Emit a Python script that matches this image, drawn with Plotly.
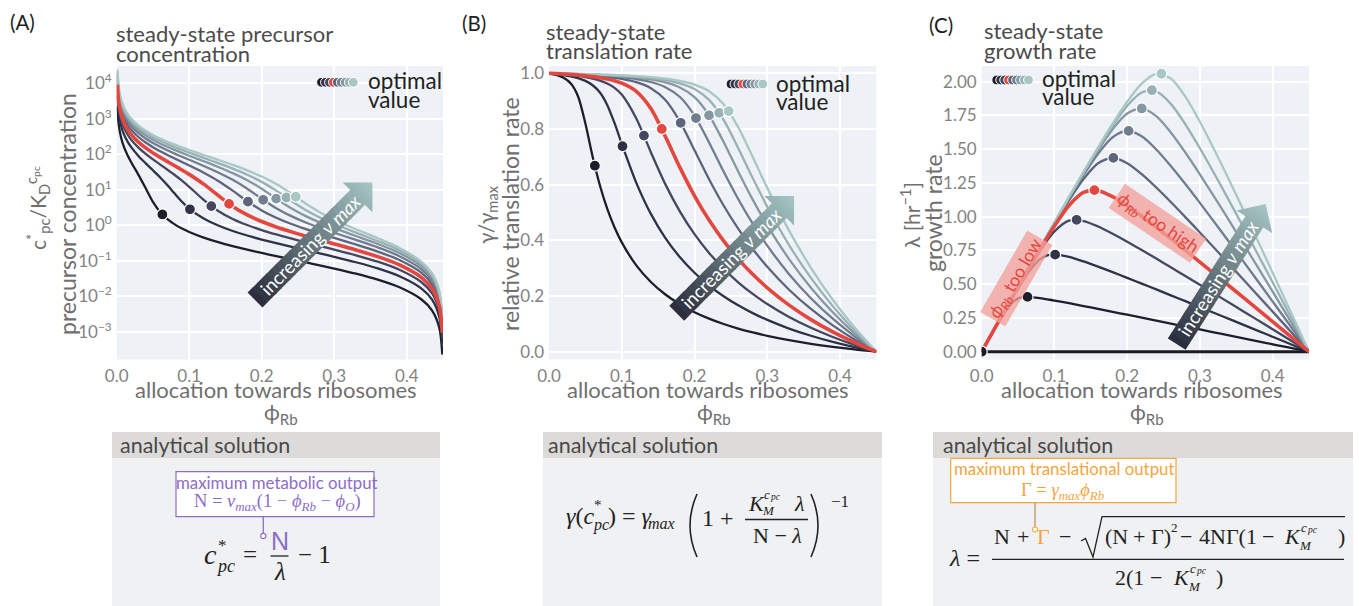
import math
import plotly.graph_objects as go

W, H = 1359, 606
FONT = "Lato"
SERIF = "Liberation Serif"

# ---------------- data ----------------
PHI = [0.0, 0.01, 0.02, 0.03, 0.04, 0.05, 0.06, 0.07, 0.08, 0.09, 0.10, 0.12, 0.14, 0.16,
       0.18, 0.20, 0.22, 0.24, 0.26, 0.28, 0.30, 0.33, 0.36, 0.39, 0.42, 0.45]
PHI_A = [0.0009, 0.003, 0.006, 0.01, 0.015, 0.02, 0.03, 0.04, 0.05, 0.06, 0.07, 0.08, 0.09,
         0.10, 0.12, 0.14, 0.16, 0.18, 0.20, 0.22, 0.24, 0.26, 0.28, 0.30, 0.33, 0.36, 0.39,
         0.42, 0.435, 0.445, 0.4491]

# (A) steady-state precursor concentration c*/K  (one list per nu_max, dark -> light)
PRECURSOR_1 = [2236, 640.5, 298.4, 161.9, 93.65, 59.68, 26.27, 11.0, 4.532, 2.335, 1.48, 1.056, 0.8082, 0.6465, 0.4493, 0.3339, 0.2583, 0.205, 0.1654, 0.1348, 0.1105, 0.0907, 0.07423, 0.06036, 0.04319, 0.02931, 0.01784, 0.008207, 0.003947, 0.001283, 0.0002285]
PRECURSOR_2 = [4532, 1326, 638.8, 364.2, 226.8, 158.2, 89.68, 55.59, 35.36, 22.22, 13.43, 7.798, 4.602, 2.945, 1.541, 0.98, 0.6893, 0.5132, 0.3956, 0.3116, 0.2487, 0.1998, 0.1607, 0.1288, 0.09064, 0.06064, 0.03648, 0.01662, 0.00796, 0.00258, 0.000459]
PRECURSOR_3 = [6829, 2011, 979.2, 566.5, 360.0, 257.0, 153.9, 102.4, 71.62, 51.19, 36.74, 26.08, 18.08, 12.13, 5.166, 2.527, 1.506, 1.013, 0.731, 0.5498, 0.4242, 0.332, 0.2617, 0.2064, 0.1424, 0.09389, 0.05581, 0.02518, 0.012, 0.00388, 0.000689]
PRECURSOR_4 = [9190, 2716, 1329, 774.5, 497.2, 358.5, 220.0, 150.8, 109.25, 81.71, 61.97, 47.31, 36.01, 27.10, 14.38, 6.885, 3.391, 1.950, 1.272, 0.8961, 0.6608, 0.5006, 0.3849, 0.2977, 0.2008, 0.1302, 0.07641, 0.03412, 0.0162, 0.00522, 0.000927]
PRECURSOR_5 = [12268, 3636, 1786, 1046, 676.1, 491.4, 306.4, 214.0, 158.6, 121.6, 95.34, 75.57, 60.31, 48.12, 30.09, 17.70, 9.44, 4.763, 2.616, 1.628, 1.105, 0.7916, 0.5847, 0.4388, 0.2864, 0.1813, 0.1046, 0.04603, 0.02172, 0.006976, 0.001238]
PRECURSOR_6 = [15390, 4569, 2249, 1322, 857.8, 626, 393.9, 278.1, 208.6, 162.2, 129.2, 104.4, 85.13, 69.77, 46.85, 30.71, 19.0, 10.72, 5.581, 3.023, 1.832, 1.214, 0.8505, 0.6147, 0.3859, 0.2378, 0.1345, 0.05837, 0.02743, 0.008763, 0.001551]
PRECURSOR_7 = [18450, 5482, 2703, 1591, 1036, 757.7, 479.8, 340.9, 257.6, 202.0, 162.4, 132.7, 109.6, 91.08, 63.52, 43.92, 29.44, 18.58, 10.67, 5.627, 3.051, 1.835, 1.203, 0.8307, 0.4986, 0.2985, 0.1654, 0.07073, 0.033, 0.01052, 0.00186]
PRECURSOR_8 = [21307, 6336, 3126, 1844, 1202, 880.8, 559.9, 399.5, 303.3, 239.2, 193.4, 159.1, 132.4, 111.1, 79.13, 56.37, 39.49, 26.58, 16.68, 9.452, 4.966, 2.726, 1.656, 1.086, 0.6206, 0.3605, 0.1958, 0.08252, 0.03828, 0.01216, 0.002148]
PRECURSOR_9 = [24288, 7224, 3568, 2104, 1375, 1009, 643.3, 460.7, 351.0, 278.0, 225.8, 186.7, 156.2, 131.9, 95.53, 69.52, 50.13, 35.19, 23.52, 14.48, 7.992, 4.169, 2.326, 1.429, 0.7693, 0.4315, 0.2291, 0.0951, 0.04386, 0.01388, 0.002448]

# (B) relative translation rate gamma/gamma_max
TRANSLATION_1 = [1, .9939, .9835, .9633, .9166, .8192, .7001, .5968, .5137, .4470, .3927, .3100, .2503, .2053, .1701, .1419, .1188, .0995, .0832, .0691, .0569, .0414, .0285, .0175, .0081, 0]
TRANSLATION_2 = [1, .9973, .9937, .9890, .9823, .9725, .9569, .9307, .8863, .8215, .7465, .6064, .4949, .4080, .3392, .2835, .2376, .1991, .1665, .1385, .1141, .0831, .0572, .0352, .0164, 0]
TRANSLATION_3 = [1, .9982, .9961, .9935, .9903, .9862, .9808, .9735, .9631, .9476, .9238, .8378, .7165, .6009, .5033, .4223, .3548, .2978, .2493, .2074, .1711, .1246, .0858, .0529, .0246, 0]
TRANSLATION_4 = [1, .9987, .9972, .9955, .9934, .9909, .9879, .9841, .9793, .9730, .9644, .9350, .8732, .7723, .6611, .5599, .4726, .3979, .3336, .2779, .2294, .1672, .1152, .0710, .0330, 0]
TRANSLATION_5 = [1, .9990, .9980, .9968, .9954, .9937, .9919, .9896, .9869, .9837, .9796, .9678, .9465, .9042, .8265, .7234, .6194, .5250, .4419, .3690, .3050, .2226, .1535, .0947, .0440, 0]
TRANSLATION_6 = [1, .9992, .9984, .9975, .9964, .9952, .9939, .9923, .9905, .9884, .9859, .9791, .9685, .9500, .9146, .8480, .7515, .6468, .5483, .4596, .3807, .2785, .1921, .1185, .0552, 0]
TRANSLATION_7 = [1, .9994, .9987, .9979, .9971, .9961, .9951, .9939, .9925, .9910, .9891, .9845, .9777, .9672, .9489, .9143, .8491, .7532, .6473, .5460, .4538, .3327, .2299, .1419, .0661, 0]
TRANSLATION_8 = [1, .9995, .9989, .9982, .9975, .9967, .9958, .9949, .9938, .9925, .9911, .9875, .9826, .9753, .9637, .9434, .9043, .8324, .7316, .6235, .5206, .3829, .2650, .1637, .0762, 0]
TRANSLATION_9 = [1, .9995, .9990, .9984, .9978, .9972, .9964, .9956, .9947, .9936, .9925, .9896, .9858, .9804, .9724, .9592, .9354, .8888, .8065, .6993, .5883, .4348, .3014, .1864, .0868, 0]

# (C) growth rate lambda [1/hr]
GROWTH_1 = [0, .0959, .1898, .2789, .3538, .3953, .4054, .4031, .3966, .3882, .3789, .3590, .3382, .3169, .2955, .2739, .2521, .2304, .2086, .1867, .1648, .1318, .0989, .0660, .0330, 0]
GROWTH_2 = [0, .0962, .1918, .2863, .3792, .4692, .5541, .6287, .6843, .7135, .7204, .7022, .6687, .6300, .5891, .5471, .5043, .4612, .4177, .3741, .3303, .2647, .1986, .1325, .0663, 0]
GROWTH_3 = [0, .0963, .1923, .2876, .3823, .4759, .5679, .6576, .7435, .8230, .8915, .9702, .9679, .9278, .8741, .8150, .7532, .6898, .6254, .5604, .4953, .3969, .2982, .1989, .0995, 0]
GROWTH_4 = [0, .0964, .1925, .2882, .3835, .4781, .5720, .6648, .7560, .8450, .9307, 1.0827, 1.1797, 1.1924, 1.1483, 1.0807, 1.0033, .9214, .8370, .7510, .6641, .5325, .4001, .2672, .1337, 0]
GROWTH_5 = [0, .0964, .1926, .2886, .3842, .4795, .5743, .6685, .7619, .8543, .9454, 1.1207, 1.2787, 1.3961, 1.4356, 1.3962, 1.3150, 1.2160, 1.1086, .9969, .8828, .7090, .5331, .3563, .1783, 0]
GROWTH_6 = [0, .0964, .1927, .2888, .3846, .4802, .5755, .6703, .7647, .8584, .9514, 1.1338, 1.3084, 1.4668, 1.5887, 1.6367, 1.5953, 1.4981, 1.3757, 1.2419, 1.1021, .8867, .6675, .4461, .2235, 0]
GROWTH_7 = [0, .0964, .1927, .2889, .3849, .4806, .5761, .6714, .7662, .8606, .9545, 1.1401, 1.3209, 1.4933, 1.6483, 1.7645, 1.8026, 1.7443, 1.6240, 1.4754, 1.3137, 1.0596, .7986, .5341, .2677, 0]
GROWTH_8 = [0, .0964, .1928, .2890, .3850, .4809, .5766, .6720, .7672, .8620, .9564, 1.1436, 1.3275, 1.5059, 1.6740, 1.8208, 1.9199, 1.9278, 1.8356, 1.6846, 1.5070, 1.2194, .9205, .6161, .3090, 0]
GROWTH_9 = [0, .0965, .1928, .2891, .3852, .4811, .5769, .6725, .7679, .8630, .9577, 1.1460, 1.3318, 1.5138, 1.6890, 1.8513, 1.9859, 2.0584, 2.0236, 1.8895, 1.7032, 1.3846, 1.0472, .7015, .3520, 0]

ZERO_PHI = [0.0, 0.45]
ZERO_GROWTH = [0.0, 0.0]

# optimal points
PHI_OPT = [0.063, 0.101, 0.1305, 0.155, 0.181, 0.202, 0.22, 0.234, 0.247]
PRECURSOR_OPT = [2.012, 2.817, 3.464, 4.0, 4.618, 5.211, 5.623, 6.042, 6.353]
TRANSLATION_OPT = [0.668, 0.738, 0.776, 0.80, 0.822, 0.839, 0.849, 0.858, 0.864]
GROWTH_OPT = [0.406, 0.719, 0.977, 1.197, 1.436, 1.636, 1.802, 1.937, 2.059]

X_TICKS = [0.0, 0.1, 0.2, 0.3, 0.4]
X_TICKTEXT = ["0.0", "0.1", "0.2", "0.3", "0.4"]
A_TICKS = [1e-3, 1e-2, 1e-1, 1e0, 1e1, 1e2, 1e3, 1e4]
A_TICKTEXT = ["10<sup>−3</sup>", "10<sup>−2</sup>", "10<sup>−1</sup>", "10<sup>0</sup>",
              "10<sup>1</sup>", "10<sup>2</sup>", "10<sup>3</sup>", "10<sup>4</sup>"]
B_TICKS = [0.0, 0.2, 0.4, 0.6, 0.8, 1.0]
B_TICKTEXT = ["0.0", "0.2", "0.4", "0.6", "0.8", "1.0"]
C_TICKS = [0.0, 0.25, 0.5, 0.75, 1.0, 1.25, 1.5, 1.75, 2.0]
C_TICKTEXT = ["0.00", "0.25", "0.50", "0.75", "1.00", "1.25", "1.50", "1.75", "2.00"]

COLORS = ["#1d1e2c", "#2f3146", "#44475f", "#e2483f", "#5d647b",
          "#717d8f", "#8597a2", "#98b1b4", "#a8c7c5"]
DRAW_ORDER = [0, 1, 2, 4, 5, 6, 7, 8, 3]

PRECURSOR = [PRECURSOR_1, PRECURSOR_2, PRECURSOR_3, PRECURSOR_4, PRECURSOR_5,
             PRECURSOR_6, PRECURSOR_7, PRECURSOR_8, PRECURSOR_9]
TRANSLATION = [TRANSLATION_1, TRANSLATION_2, TRANSLATION_3, TRANSLATION_4, TRANSLATION_5,
               TRANSLATION_6, TRANSLATION_7, TRANSLATION_8, TRANSLATION_9]
GROWTH = [GROWTH_1, GROWTH_2, GROWTH_3, GROWTH_4, GROWTH_5,
          GROWTH_6, GROWTH_7, GROWTH_8, GROWTH_9]

# ---------------- styling helpers ----------------
TICK_COLOR = "#838383"
TITLE_GRAY = "#6f6f6f"
DARK = "#4b4b4b"
MATH = "#222222"
PURPLE = "#8c6dc6"
ORANGE = "#f3a53f"
RED = "#e2483f"


def X(px):
    return px / W


def Y(py):
    return 1 - py / H


ANN = []
SH = []


def T(text, x, y, size, color=MATH, family=FONT, xanchor="center", yanchor="middle",
      angle=0, bg=None, pad=1):
    d = dict(text=text, x=X(x), y=Y(y), xref="paper", yref="paper", showarrow=False,
             font=dict(family=family, size=size, color=color), xanchor=xanchor,
             yanchor=yanchor, textangle=angle, borderpad=pad)
    if bg:
        d["bgcolor"] = bg
    ANN.append(d)


def M(text, x, y, size=22, color=MATH, xanchor="left"):
    T(text, x, y, size, color, SERIF, xanchor=xanchor)


def rect(x0, y0, x1, y1, fill, line_color=None, lw=0):
    SH.append(dict(type="rect", xref="paper", yref="paper", x0=X(x0), x1=X(x1),
                   y0=Y(y1), y1=Y(y0), fillcolor=fill,
                   line=dict(color=line_color or fill, width=lw)))


def seg(x0, y0, x1, y1, color, width):
    SH.append(dict(type="line", xref="paper", yref="paper", x0=X(x0), x1=X(x1),
                   y0=Y(y0), y1=Y(y1), line=dict(color=color, width=width)))


def circ(cx, cy, r, fill, line_color, lw):
    SH.append(dict(type="circle", xref="paper", yref="paper", x0=X(cx - r), x1=X(cx + r),
                   y0=Y(cy + r), y1=Y(cy - r), fillcolor=fill,
                   line=dict(color=line_color, width=lw)))


def pth(points, cmds, color, width):
    parts = []
    for c, p in zip(cmds, points):
        if c == "Q":
            parts.append("Q %.5f,%.5f %.5f,%.5f" % (X(p[0]), Y(p[1]), X(p[2]), Y(p[3])))
        else:
            parts.append("%s %.5f,%.5f" % (c, X(p[0]), Y(p[1])))
    SH.append(dict(type="path", xref="paper", yref="paper", path=" ".join(parts),
                   line=dict(color=color, width=width)))


def arrow(tx, ty, ang, c0=(42, 43, 58), c1=(166, 198, 196), body_len=145, body_hw=10.5,
          head_len=21, head_hw=21, n_body=22, n_head=6):
    a = math.radians(ang)
    dx, dy = math.cos(a), -math.sin(a)
    nx, ny = -dy, dx
    total = body_len + head_len

    def P(t, s):
        return X(tx + t * dx + s * nx), Y(ty + t * dy + s * ny)

    def head_w(t):
        return head_hw * max(0.0, 1 - (t - body_len) / head_len)

    for i in range(n_body):
        t0 = body_len * i / n_body
        t1 = min(body_len * (i + 1) / n_body + 0.8, body_len + 0.5)
        f = (0.5 * (t0 + t1)) / total
        col = "rgb(%d,%d,%d)" % tuple(round(p + (q - p) * f) for p, q in zip(c0, c1))
        pts = [P(t0, -body_hw), P(t1, -body_hw), P(t1, body_hw), P(t0, body_hw)]
        SH.append(dict(type="path", xref="paper", yref="paper",
                       path="M %.5f,%.5f L %.5f,%.5f L %.5f,%.5f L %.5f,%.5f Z" % (
                           pts[0] + pts[1] + pts[2] + pts[3]),
                       fillcolor=col, line=dict(width=0)))
    for i in range(n_head):
        t0 = body_len + head_len * i / n_head
        t1 = body_len + head_len * (i + 1) / n_head
        t1e = min(t1 + 0.6, total)
        w0, w1 = head_w(t0), head_w(t1e)
        f = (0.5 * (t0 + t1)) / total
        col = "rgb(%d,%d,%d)" % tuple(round(p + (q - p) * f) for p, q in zip(c0, c1))
        pts = [P(t0, -w0), P(t1e, -w1), P(t1e, w1), P(t0, w0)]
        SH.append(dict(type="path", xref="paper", yref="paper",
                       path="M %.5f,%.5f L %.5f,%.5f L %.5f,%.5f L %.5f,%.5f Z" % (
                           pts[0] + pts[1] + pts[2] + pts[3]),
                       fillcolor=col, line=dict(width=0)))
    cx, cy = tx + 78 * dx, ty + 78 * dy
    T("increasing <i>ν</i> <i>max</i>", cx, cy, 18.5, "white", FONT, angle=-ang)


# ---------------- figure ----------------
fig = go.Figure()

panels = [
    ("x", "y", PHI_A, PRECURSOR, PRECURSOR_OPT),
    ("x2", "y2", PHI, TRANSLATION, TRANSLATION_OPT),
    ("x3", "y3", PHI, GROWTH, GROWTH_OPT),
]

fig.add_trace(go.Scatter(x=ZERO_PHI, y=ZERO_GROWTH, xaxis="x3", yaxis="y3", mode="lines",
                         line=dict(color="#1b1b22", width=3), hoverinfo="skip",
                         showlegend=False))

for xa, ya, xs, curves, opt in panels:
    for i in DRAW_ORDER:
        fig.add_trace(go.Scatter(
            x=xs, y=curves[i], xaxis=xa, yaxis=ya, mode="lines",
            line=dict(color=COLORS[i], width=3.6 if i == 3 else 2.3, shape="spline",
                      smoothing=0.8),
            hoverinfo="skip", showlegend=False))
    for i in DRAW_ORDER:
        fig.add_trace(go.Scatter(
            x=[PHI_OPT[i]], y=[opt[i]], xaxis=xa, yaxis=ya, mode="markers",
            marker=dict(size=11, color=COLORS[i], line=dict(color="white", width=1.2)),
            hoverinfo="skip", showlegend=False))

fig.add_trace(go.Scatter(x=[0.0], y=[0.0], xaxis="x3", yaxis="y3", mode="markers",
                         marker=dict(size=11, color="#1b1b22",
                                     line=dict(color="white", width=1.2)),
                         hoverinfo="skip", showlegend=False))

TOP, BOT = 66, 359.5
tickfont = dict(family=FONT, size=17, color=TICK_COLOR)
common = dict(showgrid=True, gridcolor="white", gridwidth=1.6, zeroline=False,
              showline=False, ticks="", tickfont=tickfont, ticklabelstandoff=4,
              fixedrange=True, automargin=False)


def xax(a, b, anchor):
    return dict(domain=[X(a), X(b)], range=[0, 0.45], tickvals=X_TICKS,
                ticktext=X_TICKTEXT, anchor=anchor, **common)


ydom = [Y(BOT), Y(TOP)]
fig.update_layout(
    width=W, height=H, margin=dict(l=0, r=0, t=0, b=0, pad=0), autosize=False,
    paper_bgcolor="white", plot_bgcolor="#eef2f6", showlegend=False,
    xaxis=xax(116.7, 443, "y"),
    xaxis2=xax(549, 876.4, "y2"),
    xaxis3=xax(981.7, 1309, "y3"),
    yaxis=dict(domain=ydom, type="log", range=[-3.783, 4.487], tickvals=A_TICKS,
               ticktext=A_TICKTEXT, anchor="x", **common),
    yaxis2=dict(domain=ydom, range=[-0.028, 1.026], tickvals=B_TICKS,
                ticktext=B_TICKTEXT, anchor="x2", **common),
    yaxis3=dict(domain=ydom, range=[-0.0578, 2.1163], tickvals=C_TICKS,
                ticktext=C_TICKTEXT, anchor="x3", **common),
)

# panel letters & titles
T("(A)", 8, 22, 20.5, "#1e1e1e", xanchor="left")
T("(B)", 460, 23, 20.5, "#1e1e1e", xanchor="left")
T("(C)", 927, 25, 20.5, "#1e1e1e", xanchor="left")
T("steady-state precursor", 114, 33, 22, DARK, xanchor="left")
T("concentration", 114, 54, 22, DARK, xanchor="left")
T("steady-state", 544, 31, 22, DARK, xanchor="left")
T("translation rate", 544, 51, 22, DARK, xanchor="left")
T("steady-state", 982, 30, 22, DARK, xanchor="left")
T("growth rate", 982, 50, 22, DARK, xanchor="left")

# axis titles
for cx, phx in [(276, 281), (708, 714), (1142, 1147)]:
    T("allocation towards ribosomes", cx, 389.5, 22, TITLE_GRAY)
    T("ϕ<sub>Rb</sub>", phx, 413, 21.5, TITLE_GRAY)
T("c<sup>*</sup><sub>pc</sub>/K<sub>D</sub><sup>c<sub>pc</sub></sup>", 38, 208, 21,
  TITLE_GRAY, angle=-90)
T("precursor concentration", 67, 214, 23, TITLE_GRAY, angle=-90)
T("γ/γ<sub>max</sub>", 487, 215, 21, TITLE_GRAY, angle=-90)
T("relative translation rate", 510, 214, 23, TITLE_GRAY, angle=-90)
T("λ [hr<sup>−1</sup>]", 910, 215, 21, TITLE_GRAY, angle=-90)
T("growth rate", 933, 213, 23, TITLE_GRAY, angle=-90)

# legends: "optimal value"
for x0, cy, tx, ty1, ty2 in [(321.5, 82.3, 366.0, 80.7, 99.3),
                             (731.0, 84.0, 774.0, 83.3, 101.7),
                             (996.7, 80.0, 1040.0, 78.3, 96.7)]:
    for i in range(9):
        circ(x0 + i * 3.97, cy, 4.9, COLORS[i], "white", 1)
    T("optimal", tx, ty1, 22.5, "#222222", xanchor="left")
    T("value", tx, ty2, 22.5, "#222222", xanchor="left")

# arrows
arrow(255, 300, 45)
arrow(676.7, 313.3, 45)
arrow(1176.7, 344.2, 57.6)

# growth-rate labels
T("<i>ϕ</i><sub><i>Rb</i></sub> too low", 1016, 279, 17.5, RED, angle=-60,
  bg="rgba(243,160,155,0.78)", pad=2)
T("<i>ϕ</i><sub><i>Rb</i></sub> too high", 1157, 223, 17.5, RED, angle=34,
  bg="rgba(243,160,155,0.78)", pad=2)

# ---------------- analytical solution boxes ----------------
for x0, x1, tx in [(112, 440, 118.3), (543, 882, 546), (933, 1353, 940.7)]:
    rect(x0, 432, x1, 606, "#f0f1f3")
    rect(x0, 432, x1, 458, "#dcdbd9")
    T("analytical solution", tx, 444.5, 21.5, "#484848", xanchor="left")

# (A) c*_pc = N/lambda - 1
rect(176, 471.7, 374, 516.7, "white", PURPLE, 1.2)
T("maximum metabolic output", 277, 482.5, 16.8, PURPLE)
T("N = <i>ν</i><sub><i>max</i></sub>(1 − <i>ϕ</i><sub><i>Rb</i></sub> − <i>ϕ</i><sub><i>O</i></sub>)",
  277, 502, 18.5, PURPLE, SERIF)
seg(263.3, 516.7, 263.3, 533.4, PURPLE, 1.3)
circ(263.3, 536, 2.6, "white", PURPLE, 1.1)
M("<i>c</i>", 202, 554, 28)
M("*", 216, 545, 17)
M("<i>pc</i>", 214, 566, 18)
M("=", 249.5, 554, 25, xanchor="center")
T("N", 279.5, 541, 25, PURPLE, "Liberation Sans")
seg(270.5, 556, 288.5, 556, MATH, 1.3)
M("<i>λ</i>", 279.5, 571, 25, xanchor="center")
M("− 1", 296, 554, 25)

# (B) gamma(c*) = gamma_max (1 + K lambda/(N - lambda))^-1
M("<i>γ</i>(<i>c</i>", 564, 516, 24)
M("*", 592, 505, 15)
M("<i>pc</i>", 591, 525, 16)
M(") = <i>γ</i>", 606, 516, 24)
M("<i>max</i>", 646, 523, 16)
pth([(697, 494), (683, 525.5, 697, 557)], ["M", "Q"], MATH, 1.6)
M("1 +", 700, 518, 24)
M("<i>K</i>", 746, 503, 22)
M("<i>M</i>", 760, 510, 13)
M("<i>c</i>", 762, 494, 13)
M("<i>pc</i>", 768, 497, 9.5)
M("<i>λ</i>", 792, 503, 22)
seg(745, 519.5, 808, 519.5, MATH, 1.3)
M("N − <i>λ</i>", 777, 535.5, 22, xanchor="center")
pth([(811, 494), (825, 525.5, 811, 557)], ["M", "Q"], MATH, 1.6)
M("−1", 829, 501, 17)

# (C) lambda = (N + Gamma - sqrt(...)) / (2(1 - K))
rect(950.7, 458.3, 1176, 502.7, "white", ORANGE, 1.2)
T("maximum translational output", 1064, 468.5, 16.8, ORANGE)
T("Γ = <i>γ</i><sub><i>max</i></sub><i>ϕ</i><sub><i>Rb</i></sub>", 1063, 491, 18.5, ORANGE, SERIF)
seg(1035, 502.7, 1035, 527, "#c0945a", 1.3)
circ(1035, 529.5, 2.5, "white", ORANGE, 1.1)
M("<i>λ</i> =", 947, 557.5, 24)
seg(992, 559.3, 1344, 559.3, MATH, 1.3)
NY = 536
M("N", 1001.5, NY, 22, xanchor="center")
M("+", 1022.5, NY, 22, xanchor="center")
M("Γ", 1043.3, NY, 22, ORANGE, xanchor="center")
M("−", 1065, NY, 22, xanchor="center")
pth([(1081, 541), (1085.5, 538.5), (1093, 557), (1102, 516.7), (1345, 516.7)],
    ["M", "L", "L", "L", "L"], MATH, 1.3)
M("(N", 1103, NY, 22)
M("+", 1138.5, NY, 22, xanchor="center")
M("Γ)", 1149, NY, 22)
M("2", 1169, 527, 13)
M("−", 1186, NY, 22, xanchor="center")
M("4NΓ(1", 1197, NY, 22)
M("−", 1268, NY, 22, xanchor="center")
M("<i>K</i>", 1282, NY, 22)
M("<i>M</i>", 1297, 545, 13)
M("<i>c</i>", 1299, 527, 13)
M("<i>pc</i>", 1305, 530, 9.5)
M(")", 1336, NY, 22)
DY = 577
M("2(1", 1113, DY, 22)
M("−", 1156, DY, 22, xanchor="center")
M("<i>K</i>", 1171, DY, 22)
M("<i>M</i>", 1186, 586, 13)
M("<i>c</i>", 1188, 568, 13)
M("<i>pc</i>", 1194, 571, 9.5)
M(")", 1214, DY, 22)

fig.update_layout(shapes=SH, annotations=ANN)
fig.write_html("out.html", config={"displayModeBar": False},
               post_script="document.body.style.margin='0px';"
                           "document.body.style.overflow='hidden';")
